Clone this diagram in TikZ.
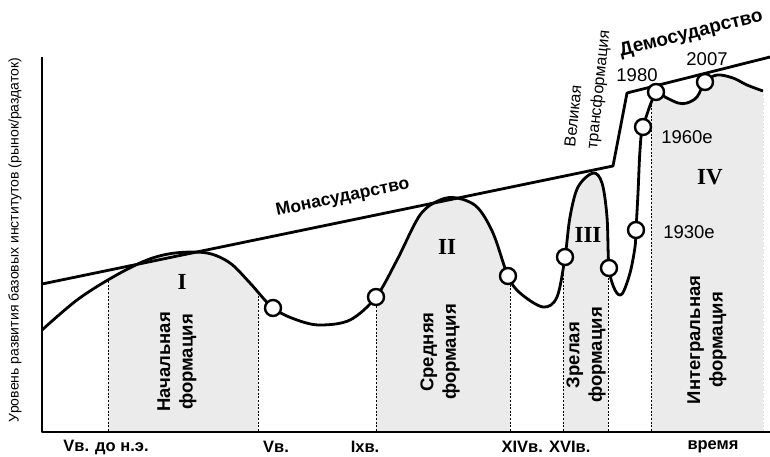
\documentclass[tikz,border=0pt]{standalone}
\usepackage{fontspec}
\setmainfont{Liberation Sans}
\newfontfamily\romanfont{Liberation Serif}
\usepackage{tikz}

\begin{document}
\begin{tikzpicture}[x=1pt,y=-1pt,
  thickline/.style={line width=2.8pt,line join=round},
  formfill/.style={fill=black!8},
  formdash/.style={line width=0.9pt,dash pattern=on 2pt off 1.6pt},
  yeardot/.style={circle,draw,fill=white,line width=2.4pt,minimum size=16pt,inner sep=0pt},
  yearlabel/.style={font=\fontsize{18.5}{18.5}\selectfont},
  numeral/.style={font=\romanfont\bfseries\fontsize{23}{23}\selectfont},
  formlabel/.style={rotate=90,align=center,font=\bfseries\fontsize{18.5}{22.5}\selectfont},
  timelabel/.style={font=\bfseries\fontsize{16.5}{16.5}\selectfont}]
\useasboundingbox (0,0) rectangle (770,457);

% points of the curve that carry a circle
\coordinate (vc) at (273,308);
\coordinate (ixc) at (376,297);
\coordinate (xivc) at (508,276);
\coordinate (xvic) at (565,257);
\coordinate (revc) at (609,268);
\coordinate (y1930) at (636,230);
\coordinate (y1960) at (643,127);
\coordinate (y1980) at (656,92);
\coordinate (y2007) at (705,82);

\def\formcurve{plot[smooth,tension=.55] coordinates {(42,330) (77,300) (113,277) (147,260) (175,253) (207,253) (230,263) (250,283) (vc) (297,320) (320,325) (350,320) (ixc) (397,260) (420,215) (440,200) (457,198) (477,207) (493,233) (xivc) (520,293) (543,307) (557,297) (xvic) (570,217) (578,187) (593,173) (602,183) (607,217) (revc) (615,290) (622,294) (630,273) (635,247) (y1930) (638,193) (640,150) (y1960) (y1980) (665,97) (678,103) (687,103) (697,97) (y2007) (717,75) (733,78) (747,85) (763,91)}}

% formations: shading and dashed borders under the curve
\begin{scope}
\clip \formcurve -- (763,432) -- (42,432) -- cycle;
\foreach \a/\b in {108/258,376/510,563/608,651/763} {
\fill[formfill] (\a,40) rectangle (\b,432);
}
\foreach \x in {108,258,376,510,563,608,651,763} {
\draw[formdash] (\x,40) -- (\x,432);
}
\end{scope}

% axes
\coordinate (top) at (42,57);
\coordinate (orig) at (42,432);
\coordinate (right) at (770,432);
\draw[thickline] (top) -- (orig) -- (right);

% state lines
\coordinate (m0) at (42,284);
\coordinate (m1) at (613,166);
\coordinate (d0) at (627,93);
\coordinate (d1) at (770,57);
\draw[thickline] (m0) -- node[sloped,pos=.535,anchor=base,yshift=19pt,font=\bfseries\fontsize{17.5}{17.5}\selectfont] (monas) {Монасударство} (m1) -- (d0)
  -- node[sloped,pos=.52,anchor=base,yshift=37pt,font=\bfseries\fontsize{19}{19}\selectfont] (demos) {Демосударство} (d1);

\draw[thickline] \formcurve;

\foreach \p in {vc,ixc,xivc,xvic,revc,y1930,y1960,y1980,y2007} {
\node[yeardot] (dot-\p) at (\p) {};
}

\node[yearlabel] (lab1980) at (637,75) {1980};
\node[yearlabel] (lab2007) at (707,59) {2007};
\node[yearlabel] (lab1960) at (687,137) {1960е};
\node[yearlabel] (lab1930) at (689,232) {1930е};

\node[rotate=84,align=left,anchor=base west,inner sep=0pt,font=\fontsize{16}{22}\selectfont] (great) at (597,150) {Великая\\трансформация};

\node[numeral] (numI) at (182,282) {I};
\node[numeral] (numII) at (447,247) {II};
\node[numeral] (numIII) at (588,235) {III};
\node[numeral] (numIV) at (710,177) {IV};

\node[formlabel] (form1) at (177,362) {Начальная\\формация};
\node[formlabel] (form2) at (440,352) {Средняя\\формация};
\node[formlabel] (form3) at (586,355) {Зрелая\\формация};
\node[formlabel] (form4) at (707,340) {Интегральная\\формация};

\node[rotate=90,font=\fontsize{14}{14}\selectfont] (ylab) at (15,240) {Уровень развития базовых институтов (рынок/раздаток)};

\node[timelabel] (t0) at (106,447) {Vв. до н.э.};
\node[timelabel] (t1) at (276,447) {Vв.};
\node[timelabel] (t2) at (365,447) {Iхв.};
\node[timelabel] (t3) at (546,447) {XIVв. XVIв.};
\node[timelabel] (t4) at (713,447) {время};
\end{tikzpicture}
\end{document}
